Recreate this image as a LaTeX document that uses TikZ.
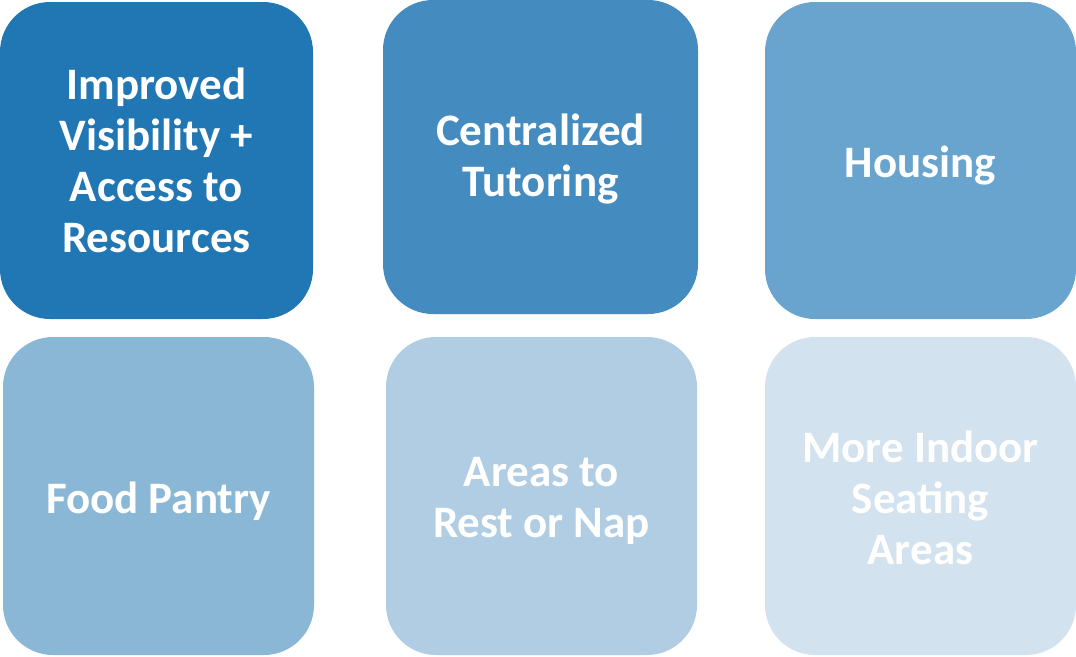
\documentclass[tikz,border=0pt]{standalone}
\usepackage{fontspec}
\setmainfont{Carlito}
\definecolor{c1}{HTML}{2177B4}
\definecolor{c2}{HTML}{448BC0}
\definecolor{c3}{HTML}{68A4CE}
\definecolor{c4}{HTML}{8AB7D6}
\definecolor{c5}{HTML}{B0CDE3}
\definecolor{c6}{HTML}{D2E2EE}
\tikzset{
  tile/.style={rectangle, rounded corners=50pt, inner sep=0pt, draw=none},
  tiletext/.style={inner sep=0pt, text=white, align=center,
    font=\fontsize{45}{51}\selectfont\bfseries}
}
\begin{document}
\begin{tikzpicture}[x=1pt,y=-1pt]
\useasboundingbox (0,0) rectangle (1076,656);
\node[tile, fill=c1, minimum width=313pt, minimum height=317pt] (t1) at (156.5,160.5) {};
\node[tile, fill=c2, minimum width=315pt, minimum height=314pt] (t2) at (540.5,157) {};
\node[tile, fill=c3, minimum width=311pt, minimum height=317pt] (t3) at (920.5,160.5) {};
\node[tile, fill=c4, minimum width=311pt, minimum height=318pt] (t4) at (158.5,496) {};
\node[tile, fill=c5, minimum width=311pt, minimum height=318pt] (t5) at (541.5,496) {};
\node[tile, fill=c6, minimum width=311pt, minimum height=318pt] (t6) at (920.5,496) {};
\node[tiletext] (l1) at ([yshift=0pt]t1.center) {Improved\\Visibility +\\Access to\\Resources};
\node[tiletext] (l2) at ([yshift=-2pt]t2.center) {Centralized\\Tutoring};
\node[tiletext] (l3) at ([yshift=-5pt]t3.center) {Housing};
\node[tiletext] (l4) at ([yshift=-5pt]t4.center) {Food Pantry};
\node[tiletext] (l5) at ([yshift=-5pt]t5.center) {Areas to\\Rest or Nap};
\node[tiletext] (l6) at ([yshift=-2pt]t6.center) {More Indoor\\Seating\\Areas};
\end{tikzpicture}
\end{document}
